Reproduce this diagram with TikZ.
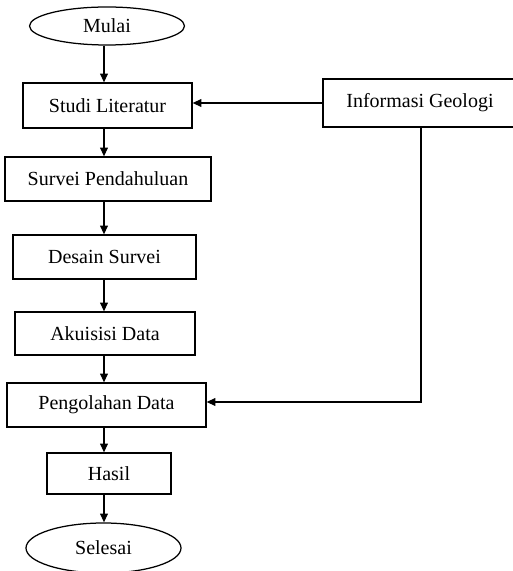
\documentclass[tikz,border=0pt]{standalone}
\usepackage{fontspec}
\setmainfont{Liberation Serif}
\usetikzlibrary{shapes.geometric,arrows.meta}
\begin{document}
\begin{tikzpicture}[x=0.6pt,y=-0.6pt,
  every node/.style={font=\fontsize{12}{14}\selectfont, inner sep=0pt},
  stepbox/.style={draw, line width=0.75pt, rectangle},
  term/.style={draw, line width=0.75pt, ellipse},
  arr/.style={line width=0.75pt, -{Triangle[length=5.2pt,width=4.6pt]}}]
\useasboundingbox (0,0) rectangle (513,571);
\node[term, minimum width=155*0.6pt, minimum height=38*0.6pt] (mulai) at (107,26) {Mulai};
\node[stepbox, minimum width=169*0.6pt, minimum height=45*0.6pt] (studi) at (107.5,105.5) {Studi Literatur};
\node[stepbox, minimum width=206*0.6pt, minimum height=44*0.6pt] (survei) at (108,179) {Survei Pendahuluan};
\node[stepbox, minimum width=183*0.6pt, minimum height=44*0.6pt] (desain) at (104.5,257) {Desain Survei};
\node[stepbox, minimum width=180*0.6pt, minimum height=43*0.6pt] (akuisisi) at (105,333.5) {Akuisisi Data};
\node[stepbox, minimum width=199*0.6pt, minimum height=44*0.6pt] (olah) at (106.5,405) {Pengolahan Data};
\node[stepbox, minimum width=124*0.6pt, minimum height=41*0.6pt] (hasil) at (109,473.5) {Hasil};
\node[term, minimum width=155*0.6pt, minimum height=50*0.6pt] (selesai) at (103.5,548) {Selesai};
\node[stepbox, minimum width=196*0.6pt, minimum height=48*0.6pt] (info) at (421,103) {};
\node (infotext) at (420,103) {Informasi Geologi};
\coordinate (ax) at (104,0);
\coordinate (vx) at (421,0);
\draw[arr] (ax |- mulai.south) -- (ax |- studi.north);
\draw[arr] (ax |- studi.south) -- (ax |- survei.north);
\draw[arr] (ax |- survei.south) -- (ax |- desain.north);
\draw[arr] (ax |- desain.south) -- (ax |- akuisisi.north);
\draw[arr] (ax |- akuisisi.south) -- (ax |- olah.north);
\draw[arr] (ax |- olah.south) -- (ax |- hasil.north);
\draw[arr] (ax |- hasil.south) -- (ax |- selesai.north);
\draw[arr] (info.west) -- (info.west -| studi.east);
\draw[arr] (vx |- info.south) -- ([yshift=1.8pt]vx |- olah.east) -- ([yshift=1.8pt]olah.east);
\end{tikzpicture}
\end{document}
